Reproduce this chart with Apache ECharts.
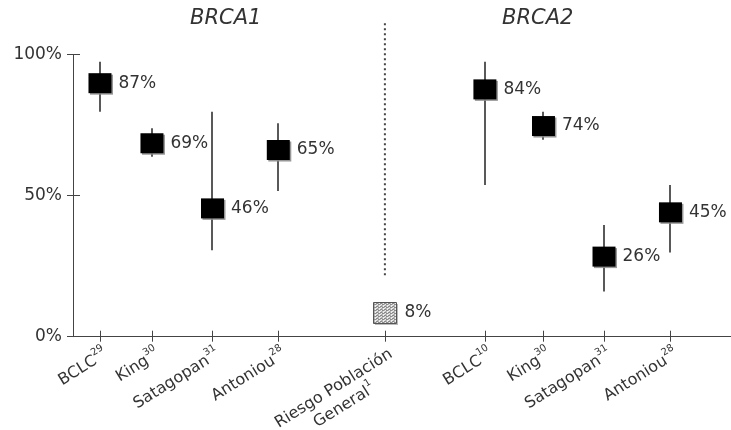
<!DOCTYPE html>
<html><head><meta charset="utf-8">
<script src="https://cdn.jsdelivr.net/npm/echarts@6/dist/echarts.min.js"></script>
<style>html,body{margin:0;padding:0;background:#fff}#c{width:731px;height:430px}</style>
</head><body><div id="c"></div>
<script>
// ---- data ----
var categories = ['BCLC', 'King', 'Satagopan', 'Antoniou', 'Riesgo Población\nGeneral', 'BCLC', 'King', 'Satagopan', 'Antoniou'];
var refs = ['29', '30', '31', '28', '1', '10', '30', '31', '28'];
var catPos = [4.1, 12.0, 21.2, 31.2, 47.4, 62.6, 71.5, 80.7, 90.8];   // x-axis value units
var riskValues = [89.9, 68.6, 45.5, 66.2, 8.6, 87.7, 74.7, 28.4, 44.1];
var riskLabels = ['87%', '69%', '46%', '65%', '8%', '84%', '74%', '26%', '45%'];
var ciLow  = [79.8, 63.8, 30.7, 51.7, null, 53.8, 69.8, 16.0, 29.9];
var ciHigh = [97.5, 73.9, 79.8, 75.7, null, 97.5, 79.8, 39.6, 53.8];
var generalIndex = 4;
var separatorRange = [21.8, 111.6];
var groupTitles = ['BRCA1', 'BRCA2'];

// ---- styles ----
var FONT = 'DejaVu Sans';
var TXT = '#333';
var AX = '#444';

function patternCanvas() {
  var c = document.createElement('canvas');
  c.width = 4; c.height = 3;
  var g = c.getContext('2d');
  g.fillStyle = '#ececec'; g.fillRect(0, 0, 4, 3);
  g.fillStyle = '#8c8c8c';
  g.fillRect(0, 0, 2, 1); g.fillRect(2, 1, 2, 1);
  g.fillStyle = '#b4b4b4';
  g.fillRect(2, 0, 1, 1); g.fillRect(0, 1, 1, 1); g.fillRect(1, 2, 2, 1);
  return c;
}
var PATTERN = { image: patternCanvas(), repeat: 'repeat' };

function catIndex(v) {
  var best = 0, bd = Infinity;
  for (var i = 0; i < catPos.length; i++) { var d = Math.abs(catPos[i] - v); if (d < bd) { bd = d; best = i; } }
  return best;
}

var whiskerData = [], squareData = [], generalData = [];
for (var i = 0; i < categories.length; i++) {
  if (ciLow[i] != null) whiskerData.push([catPos[i], ciLow[i], ciHigh[i]]);
  if (i === generalIndex) generalData.push([catPos[i], riskValues[i], i]);
  else squareData.push({ value: [catPos[i], riskValues[i]], lbl: riskLabels[i] });
}

var chart = echarts.init(document.getElementById('c'), null, { renderer: 'canvas' });

var xBase = {
  type: 'value', min: 0, max: 100, position: 'bottom',
  splitLine: { show: false }
};

var option = {
  animation: false,
  backgroundColor: '#fff',
  textStyle: { fontFamily: FONT },
  title: [
    { text: groupTitles[0], left: 190, top: 8, padding: 0,
      textStyle: { fontFamily: FONT, fontStyle: 'italic', fontWeight: 'normal', fontSize: 21, color: TXT } },
    { text: groupTitles[1], left: 502, top: 8, padding: 0,
      textStyle: { fontFamily: FONT, fontStyle: 'italic', fontWeight: 'normal', fontSize: 21, color: TXT } }
  ],
  grid: { left: 73, right: 0, top: 54.7, bottom: 93.3, containLabel: false, outerBoundsMode: 'none' },
  xAxis: [
    Object.assign({}, xBase, {
      axisLine: { show: true, lineStyle: { color: AX, width: 1 } },
      axisTick: { show: true, inside: false, length: 5, customValues: catPos, lineStyle: { color: AX } },
      axisLabel: {
        show: true, customValues: catPos, rotate: 32, margin: 6, hideOverlap: false,
        verticalAlign: 'top',
        fontFamily: FONT, color: TXT,
        formatter: function (v) {
          var i = catIndex(v);
          if (categories[i].indexOf('\n') >= 0) {
            var parts = categories[i].split('\n');
            return '{c|' + parts[0] + '}\n{c|' + parts[1] + '}{cs|' + refs[i] + '}';
          }
          return '{n|' + categories[i] + '}{s|' + refs[i] + '}';
        },
        rich: {
          n: { fontFamily: FONT, fontSize: 16, color: TXT, verticalAlign: 'bottom', padding: [4, 0, 0, 0] },
          s: { fontFamily: FONT, fontSize: 10, color: TXT, verticalAlign: 'top' },
          c: { fontFamily: FONT, fontSize: 16, color: TXT, align: 'center', verticalAlign: 'bottom', padding: [4, 0, 0, 0] },
          cs: { fontFamily: FONT, fontSize: 10, color: TXT, verticalAlign: 'top', align: 'center' }
        }
      }
    }),
    Object.assign({}, xBase, {
      axisLine: { show: false },
      axisTick: { show: true, inside: true, length: 6, customValues: catPos, lineStyle: { color: AX } },
      axisLabel: { show: false }
    })
  ],
  yAxis: [
    {
      type: 'value', min: 0, max: 100, interval: 50, position: 'left',
      splitLine: { show: false },
      axisLine: { show: true, lineStyle: { color: AX, width: 1 } },
      axisTick: { show: true, inside: false, length: 6, lineStyle: { color: AX } },
      axisLabel: { margin: 11, fontFamily: FONT, fontSize: 17, color: TXT, formatter: '{value}%' }
    },
    {
      type: 'value', min: 0, max: 100, interval: 50, position: 'left',
      splitLine: { show: false },
      axisLine: { show: false },
      axisTick: { show: true, inside: true, length: 7, lineStyle: { color: AX } },
      axisLabel: { show: false }
    }
  ],
  series: [
    {
      type: 'custom', name: 'separator', xAxisIndex: 0, yAxisIndex: 0, clip: false, silent: true, z: 1,
      data: [[catPos[generalIndex], separatorRange[0], separatorRange[1]]],
      renderItem: function (params, api) {
        var a = api.coord([api.value(0), api.value(1)]);
        var b = api.coord([api.value(0), api.value(2)]);
        return { type: 'line', shape: { x1: a[0], y1: a[1], x2: b[0], y2: b[1] },
          style: { stroke: '#444', lineWidth: 2, lineDash: [2, 3] } };
      }
    },
    {
      type: 'custom', name: 'ci', xAxisIndex: 0, yAxisIndex: 0, clip: false, silent: true, z: 2,
      data: whiskerData,
      renderItem: function (params, api) {
        var a = api.coord([api.value(0), api.value(1)]);
        var b = api.coord([api.value(0), api.value(2)]);
        var x = Math.round(a[0]);
        return { type: 'line', shape: { x1: x, y1: a[1], x2: x, y2: b[1] },
          style: { stroke: '#222', lineWidth: 1.5 } };
      }
    },
    {
      type: 'scatter', name: 'riesgo', xAxisIndex: 0, yAxisIndex: 0, z: 5,
      symbol: 'rect', symbolSize: [23, 20],
      data: squareData,
      itemStyle: { color: '#000', opacity: 1, borderWidth: 0,
        shadowColor: 'rgba(140,140,140,0.9)', shadowOffsetX: 1.5, shadowOffsetY: 1.5, shadowBlur: 0 },
      label: { show: true, position: 'right', distance: 7, fontFamily: FONT, fontSize: 17, color: TXT,
        formatter: function (p) { return p.data.lbl; } }
    },
    {
      type: 'custom', name: 'general', xAxisIndex: 0, yAxisIndex: 0, z: 5, clip: false,
      data: generalData,
      renderItem: function (params, api) {
        var p = api.coord([api.value(0), api.value(1)]);
        var w = 23, h = 21;
        var x0 = Math.round(p[0] - w / 2) + 0.5, y0 = Math.round(p[1] - h / 2) + 0.5;
        return { type: 'group', children: [
          { type: 'rect', shape: { x: x0 + 1.5, y: y0 + 1.5, width: w, height: h }, style: { fill: '#bbb' } },
          { type: 'rect', shape: { x: x0, y: y0, width: w, height: h },
            style: { fill: PATTERN, stroke: '#555', lineWidth: 1 } },
          { type: 'text', x: x0 + w + 8, y: p[1],
            style: { text: riskLabels[api.value(2)], fontFamily: FONT, fontSize: 17, fill: TXT,
              verticalAlign: 'middle', align: 'left' } }
        ] };
      }
    }
  ]
};
chart.setOption(option);
</script>
</body></html>
